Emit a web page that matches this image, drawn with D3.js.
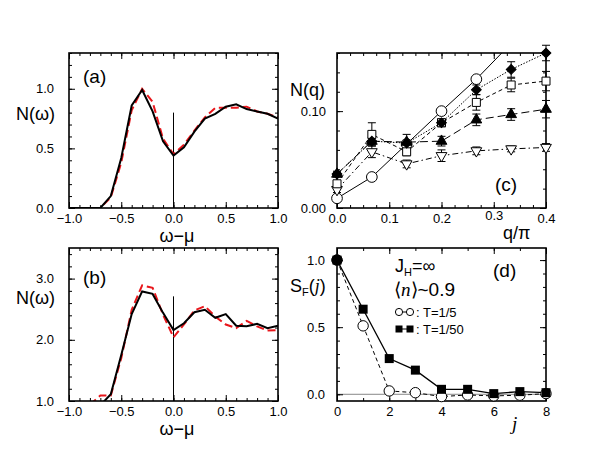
<!DOCTYPE html>
<html>
<head>
<meta charset="utf-8">
<script src="https://cdn.jsdelivr.net/npm/d3@7"></script>
<style>
  body { margin: 0; background: #fff; }
  svg { font-family: "Liberation Sans", Arial, sans-serif; }
  .tick text { font-size: 13px; font-family: "Liberation Sans", Arial, sans-serif; fill: #000; }
  .tick line { stroke: #000; }
</style>
</head>
<body>
<svg id="fig" width="599" height="463"></svg>
<script>
// ---- data ----
const omega = [-1.0, -0.9, -0.8, -0.7, -0.6, -0.5, -0.4, -0.3, -0.2, -0.1, 0.0,
               0.1, 0.2, 0.3, 0.4, 0.5, 0.6, 0.7, 0.8, 0.9, 1.0];
// panel (a)
const aBlack = [0, 0, 0, 0, 0.10, 0.42, 0.86, 0.99, 0.81, 0.56, 0.44,
                0.51, 0.64, 0.75, 0.79, 0.85, 0.87, 0.83, 0.81, 0.79, 0.75];
const aRed   = [0, 0, 0, 0, 0.09, 0.38, 0.82, 1.00, 0.89, 0.58, 0.45,
                0.53, 0.65, 0.76, 0.84, 0.84, 0.84, 0.85, 0.81, 0.79, 0.76];
// panel (b)  (null = below the visible window)
const bBlack = [null, null, null, 0.93, 1.11, 1.75, 2.42, 2.79, 2.75, 2.44, 2.16,
                2.27, 2.45, 2.49, 2.36, 2.42, 2.23, 2.22, 2.26, 2.19, 2.23];
const bRed   = [null, null, 0.94, 1.09, 1.09, 1.70, 2.49, 2.89, 2.85, 2.41, 2.04,
                2.25, 2.48, 2.55, 2.38, 2.25, 2.19, 2.31, 2.22, 2.15, 2.16];

// panel (c)
const qVals = [0, 0.0667, 0.1333, 0.2, 0.2667, 0.3333, 0.4];
const nqCircle   = [0.010, 0.032, 0.066, 0.100, 0.133, 0.170, null];
const nqDiamond  = [0.035, 0.069, 0.067, 0.088, 0.122, 0.143, 0.160];
const errDiamond = [0.002, 0.003, 0.003, 0.004, 0.005, 0.008, 0.008];
const nqSquare   = [0.025, 0.076, 0.058, 0.088, 0.109, 0.127, 0.131];
const errSquare  = [0.003, 0.012, 0.004, 0.004, 0.008, 0.007, 0.010];
const nqTriUp    = [0.035, 0.069, 0.068, 0.069, 0.091, 0.0965, 0.102];
const errTriUp   = [0.003, 0.004, 0.008, 0.005, 0.006, 0.006, 0.009];
const nqTriDown  = [0.019, 0.058, 0.0455, 0.054, 0.059, 0.061, 0.0625];
const errTriDown = [0.003, 0.006, 0.004, 0.006, 0.004, 0.003, 0.004];

// panel (d)
const jVals  = [0, 1, 2, 3, 4, 5, 6, 7, 8];
const sfT5   = [1.0, 0.51, 0.025, 0.012, -0.017, -0.005, -0.012, -0.007, 0.005];
const sfT50  = [1.0, 0.634, 0.266, 0.18, 0.037, 0.037, 0.005, 0.02, 0.012];
const legendLabels = ["T=1/5", "T=1/50"];

const svg = d3.select("#fig");

// panel with box, inward ticks on all sides, labels bottom/left
function makePanel(id, box, xDom, yDom, o) {
  const w = box.r - box.l, h = box.b - box.t;
  const x = d3.scaleLinear().domain(xDom).range([0, w]);
  const y = d3.scaleLinear().domain(yDom).range([h, 0]);
  const g = svg.append("g").attr("transform", `translate(${box.l},${box.t})`);

  svg.append("clipPath").attr("id", "clip-" + id)
    .append("rect").attr("width", w).attr("height", h);
  const plot = g.append("g").attr("clip-path", `url(#clip-${id})`);

  const axes = g.append("g");
  const fmt = o.fmt || (d => d.toFixed(1).replace("-", "\u2212"));
  // minor ticks
  axes.append("g").attr("transform", `translate(0,${h})`)
    .call(d3.axisBottom(x).tickValues(o.xMinor).tickSize(-3).tickFormat(""));
  axes.append("g")
    .call(d3.axisTop(x).tickValues(o.xMinor).tickSize(-3).tickFormat(""));
  axes.append("g")
    .call(d3.axisLeft(y).tickValues(o.yMinor).tickSize(-3).tickFormat(""));
  axes.append("g").attr("transform", `translate(${w},0)`)
    .call(d3.axisRight(y).tickValues(o.yMinor).tickSize(-3).tickFormat(""));
  // major ticks
  axes.append("g").attr("class", "x-major").attr("transform", `translate(0,${h})`)
    .call(d3.axisBottom(x).tickValues(o.xMajor).tickSize(-6).tickPadding(o.xPad || 6).tickFormat(o.xFmt || fmt));
  axes.append("g")
    .call(d3.axisTop(x).tickValues(o.xMajor).tickSize(-6).tickFormat(""));
  axes.append("g")
    .call(d3.axisLeft(y).tickValues(o.yMajor).tickSize(-6).tickPadding(o.yPad || 15).tickFormat(o.yFmt || fmt));
  axes.append("g").attr("transform", `translate(${w},0)`)
    .call(d3.axisRight(y).tickValues(o.yMajor).tickSize(-6).tickFormat(""));
  axes.selectAll(".domain").remove();

  g.append("rect").attr("width", w).attr("height", h)
    .attr("fill", "none").attr("stroke", "#000").attr("stroke-width", 1.6);
  return { g, plot, x, y, w, h };
}

function range(a, b, s) {
  const out = [];
  for (let v = a; v <= b + 1e-9; v += s) out.push(+v.toFixed(4));
  return out;
}

// ---- panels (a) and (b): N(omega) ----
function dosPanel(id, box, yDom, yMajor, yMinor, black, red, vTop, tag, tagY) {
  const p = makePanel(id, box, [-1, 1], yDom, {
    xMajor: [-1, -0.5, 0, 0.5, 1], xMinor: range(-1, 1, 0.1),
    yMajor: yMajor, yMinor: yMinor
  });
  const line = vals => d3.line()
    .defined((d, i) => vals[i] !== null)
    .x((d, i) => p.x(omega[i]))
    .y((d, i) => p.y(vals[i]))(vals);
  p.plot.append("line")
    .attr("x1", p.x(0)).attr("x2", p.x(0))
    .attr("y1", p.y(yDom[0])).attr("y2", p.y(vTop))
    .attr("stroke", "#000").attr("stroke-width", 1);
  p.plot.append("path").attr("d", line(red))
    .attr("fill", "none").attr("stroke", "#e8161b").attr("stroke-width", 2)
    .attr("stroke-dasharray", "8,4");
  p.plot.append("path").attr("d", line(black))
    .attr("fill", "none").attr("stroke", "#000").attr("stroke-width", 2);
  p.g.append("text").attr("x", 14).attr("y", tagY).attr("font-size", 19).text(tag);
  return p;
}

const pa = dosPanel("a", { l: 69, r: 278, t: 53, b: 208 }, [0, 1.3],
  [0, 0.5, 1.0], range(0, 1.3, 0.1), aBlack, aRed, 0.8, "(a)", 30);
const pb = dosPanel("b", { l: 69, r: 278, t: 248, b: 401 }, [1, 3.5],
  [1, 2, 3], range(1, 3.4, 0.2), bBlack, bRed, 2.71, "(b)", 36);

[120, 304].forEach(yy => {
  svg.append("text").attr("x", 16).attr("y", yy).attr("font-size", 18).text("N(\u03c9)");
});
[242, 435].forEach(yy => {
  svg.append("text").attr("x", 177).attr("y", yy).attr("font-size", 18)
    .attr("text-anchor", "middle").text("\u03c9\u2212\u03bc");
});

// ---- panel (c): N(q) ----
const pc = makePanel("c", { l: 337, r: 546, t: 53, b: 208 }, [0, 0.4], [0, 0.16], {
  xMajor: [0, 0.1, 0.2, 0.3, 0.4], xMinor: range(0, 0.4, 0.025),
  yMajor: [0, 0.1], yMinor: range(0, 0.16, 0.02),
  yFmt: d => d.toFixed(2), yPad: 11
});

const seriesC = [
  { vals: nqCircle,   err: null,       dash: null,          sym: d3.symbolCircle,   size: 90, rot: 0,   fill: "#fff" },
  { vals: nqTriDown,  err: errTriDown, dash: "6,3,1.5,3",   sym: d3.symbolTriangle, size: 50, rot: 180, fill: "#fff" },
  { vals: nqTriUp,    err: errTriUp,   dash: "8,4",         sym: d3.symbolTriangle, size: 50, rot: 0,   fill: "#000" },
  { vals: nqSquare,   err: errSquare,  dash: "4,3",         sym: d3.symbolSquare,   size: 64, rot: 0,   fill: "#fff" },
  { vals: nqDiamond,  err: errDiamond, dash: "1.5,1.5",     sym: d3.symbolSquare,   size: 48, rot: 45,  fill: "#000" }
];

seriesC.forEach(s => {
  const pts = qVals.map((q, i) => ({ q, v: s.vals[i], e: s.err ? s.err[i] : 0 }))
    .filter(d => d.v !== null);
  pc.plot.append("path")
    .attr("d", d3.line().x(d => pc.x(d.q)).y(d => pc.y(d.v))(pts))
    .attr("fill", "none").attr("stroke", "#000").attr("stroke-width", 1)
    .attr("stroke-dasharray", s.dash);
  if (s.err) {
    const eb = pc.g.append("g").attr("stroke", "#000").attr("stroke-width", 1);
    pts.forEach(d => {
      const xx = pc.x(d.q), y1 = pc.y(d.v - d.e), y2 = pc.y(d.v + d.e);
      eb.append("line").attr("x1", xx).attr("x2", xx).attr("y1", y1).attr("y2", y2);
      eb.append("line").attr("x1", xx - 4).attr("x2", xx + 4).attr("y1", y1).attr("y2", y1);
      eb.append("line").attr("x1", xx - 4).attr("x2", xx + 4).attr("y1", y2).attr("y2", y2);
    });
  }
});
// markers are not clipped, but only those inside the y range are drawn
seriesC.forEach(s => {
  const pts = qVals.map((q, i) => ({ q, v: s.vals[i] }))
    .filter(d => d.v !== null && d.v <= pc.y.domain()[1] + 1e-9);
  pc.g.selectAll(null).data(pts).join("path")
    .attr("d", d3.symbol(s.sym, s.size))
    .attr("transform", d => `translate(${pc.x(d.q)},${pc.y(d.v)}) rotate(${s.rot})`)
    .attr("fill", s.fill).attr("stroke", "#000").attr("stroke-width", 1);
});

svg.append("text").attr("x", 290).attr("y", 96).attr("font-size", 18).text("N(q)");
svg.append("text").attr("x", 495).attr("y", 191).attr("font-size", 19).text("(c)");
// "0.3" nudged up a little so q/pi does not sit on it
pc.g.select(".x-major").selectAll(".tick text").filter(d => d === 0.3).attr("y", 3);
svg.append("text").attr("x", 503).attr("y", 239).attr("font-size", 18).text("q/\u03c0");

// ---- panel (d): S_F(j) ----
const pd = makePanel("d", { l: 337, r: 546, t: 248, b: 401 }, [0, 8], [-0.05, 1.09], {
  xMajor: [0, 2, 4, 6, 8], xMinor: range(0, 8, 1),
  yMajor: [0, 0.5, 1.0], yMinor: range(0, 1.0, 0.1),
  xFmt: d => String(d), yPad: 12
});
pd.plot.append("line").attr("x1", 0).attr("x2", pd.w)
  .attr("y1", pd.y(0)).attr("y2", pd.y(0))
  .attr("stroke", "#888").attr("stroke-width", 1);

const lineD = vals => d3.line().x((d, i) => pd.x(jVals[i])).y((d, i) => pd.y(vals[i]))(vals);
pd.plot.append("path").attr("d", lineD(sfT5)).attr("fill", "none")
  .attr("stroke", "#000").attr("stroke-width", 1).attr("stroke-dasharray", "4,3");
pd.plot.append("path").attr("d", lineD(sfT50)).attr("fill", "none")
  .attr("stroke", "#000").attr("stroke-width", 1.3);
pd.g.selectAll(".c5").data(sfT5).join("circle")
  .attr("cx", (d, i) => pd.x(jVals[i])).attr("cy", d => pd.y(d)).attr("r", 5.2)
  .attr("fill", "#fff").attr("stroke", "#000").attr("stroke-width", 1);
pd.g.selectAll(".s50").data(sfT50).join("rect")
  .attr("x", (d, i) => pd.x(jVals[i]) - 4.5).attr("y", d => pd.y(d) - 4.5)
  .attr("width", 9).attr("height", 9).attr("fill", "#000");
pd.g.append("circle").attr("cx", pd.x(0)).attr("cy", pd.y(1)).attr("r", 5.5).attr("fill", "#000");

// legend & annotations
const jh = svg.append("text").attr("x", 395).attr("y", 272).attr("font-size", 18);
jh.append("tspan").text("J");
jh.append("tspan").attr("font-size", 11).attr("dy", 4).text("H");
jh.append("tspan").attr("dy", -4).text("=\u221e");
const nn = svg.append("text").attr("x", 394).attr("y", 296).attr("font-size", 19);
nn.append("tspan").text("\u27e8");
nn.append("tspan").attr("font-family", "Liberation Serif, serif").attr("font-style", "italic").text("n");
nn.append("tspan").text("\u27e9~0.9");

const lg = svg.append("g");
lg.append("line").attr("x1", 399).attr("x2", 410).attr("y1", 312).attr("y2", 312).attr("stroke", "#000");
[399, 410].forEach(cx => lg.append("circle").attr("cx", cx).attr("cy", 312).attr("r", 3.6)
  .attr("fill", "#fff").attr("stroke", "#000"));
lg.append("line").attr("x1", 399).attr("x2", 410).attr("y1", 329).attr("y2", 329).attr("stroke", "#000");
[399, 410].forEach(cx => lg.append("rect").attr("x", cx - 3.5).attr("y", 325.5)
  .attr("width", 7).attr("height", 7).attr("fill", "#000"));
legendLabels.forEach((t, i) => {
  lg.append("text").attr("x", 416).attr("y", 317 + i * 17).attr("font-size", 13).text(": " + t);
});

svg.append("text").attr("x", 493).attr("y", 277).attr("font-size", 19).text("(d)");
const sf = svg.append("text").attr("x", 290).attr("y", 292).attr("font-size", 18);
sf.append("tspan").text("S");
sf.append("tspan").attr("font-size", 11).attr("dy", 4).text("F");
sf.append("tspan").attr("dy", -4).text("(");
sf.append("tspan").attr("font-family", "Liberation Serif, serif").attr("font-style", "italic").text("j");
sf.append("tspan").text(")");
svg.append("text").attr("x", 512).attr("y", 430).attr("font-size", 19)
  .attr("font-family", "Liberation Serif, serif").attr("font-style", "italic").text("j");
</script>
</body>
</html>
